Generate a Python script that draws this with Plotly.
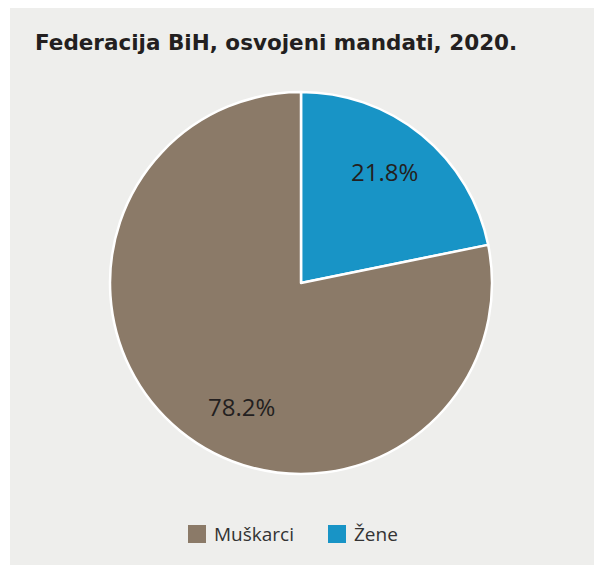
import plotly.graph_objects as go

categories = ["Muškarci", "Žene"]
values = [78.2, 21.8]
colors = ["#8b7a68", "#1894c6"]
title_text = "Federacija BiH, osvojeni mandati, 2020."

W, H = 594, 557
BG = "#eeeeec"

# pie drawn starting with "Žene" at 12 o'clock, going clockwise
pie_order = [1, 0]

fig = go.Figure(go.Pie(
    labels=[categories[i] for i in pie_order],
    values=[values[i] for i in pie_order],
    sort=False,
    direction="clockwise",
    rotation=0,
    marker=dict(colors=[colors[i] for i in pie_order], line=dict(color="white", width=2.5)),
    textinfo="none",
    domain=dict(x=[102 / W, 484 / W], y=[(282 - 191) / H, (282 + 191) / H]),
    showlegend=False,
    hoverinfo="label+percent",
))

# percentage labels (page-pixel centres, converted to figure paper coords)
label_pos = {"Žene": (384, 171), "Muškarci": (241, 406.5)}
annotations = []
for name, v in zip(categories, values):
    px, py = label_pos[name]
    annotations.append(dict(text=f"{v:.1f}%", xref="paper", yref="paper",
                            x=(px - 8) / W, y=1 - (py - 8) / H,
                            xanchor="center", yanchor="middle", showarrow=False,
                            font=dict(family="Open Sans", size=24, color="#231f20")))

shapes = [dict(type="rect", xref="paper", yref="paper", x0=0, x1=2 / W, y0=0, y1=1,
               fillcolor="white", line=dict(width=0), layer="above")]
legend_x = [180, 320]
legend_yc = 557 - 526
for name, col, lx in zip(categories, colors, legend_x):
    shapes.append(dict(type="rect", xref="paper", yref="paper",
                       x0=lx / W, x1=(lx + 18) / W,
                       y0=(legend_yc - 9) / H, y1=(legend_yc + 9) / H,
                       fillcolor=col, line=dict(width=0)))
    annotations.append(dict(text=name, xref="paper", yref="paper",
                            x=(lx + 24) / W, y=legend_yc / H, xanchor="left", yanchor="middle",
                            showarrow=False, font=dict(family="Open Sans", size=19, color="#333333")))

fig.update_layout(
    width=W, height=H,
    margin=dict(l=0, r=0, t=0, b=0),
    paper_bgcolor=BG,
    plot_bgcolor=BG,
    title=dict(text="<b>" + title_text + "</b>", x=27 / W, xanchor="left",
               y=1 - 34 / H, yanchor="middle",
               font=dict(family="DejaVu Sans", size=21.5, color="#231f20")),
    shapes=shapes,
    annotations=annotations,
)

fig.write_html("out.html")
